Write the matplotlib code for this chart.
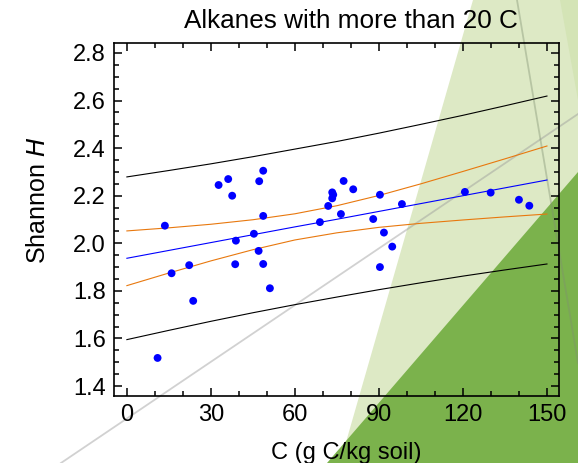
import matplotlib
matplotlib.use("Agg")
import matplotlib.pyplot as plt
from matplotlib.patches import Polygon
from matplotlib.lines import Line2D
from matplotlib.ticker import MultipleLocator

plt.rcParams['font.family'] = ['Liberation Sans', 'DejaVu Sans']

# ---- data ----
carbon = [10.96, 13.57, 15.96, 22.25, 23.68, 32.75, 36.18, 37.6, 38.93, 38.68,
          45.36, 47.25, 48.68, 47.04, 48.68, 48.68, 51.07, 68.93, 71.89, 73.32,
          73.68, 73.32, 76.43, 77.39, 80.82, 87.96, 90.36, 90.36, 91.79, 94.75,
          98.21, 120.7, 129.9, 140.0, 143.7]
shannon = [1.518, 2.074, 1.874, 1.908, 1.758, 2.245, 2.270, 2.200, 2.011, 1.912,
           2.040, 2.261, 2.305, 1.968, 2.115, 1.913, 1.811, 2.089, 2.157, 2.214,
           2.204, 2.189, 2.123, 2.262, 2.227, 2.102, 2.204, 1.900, 2.045, 1.986,
           2.165, 2.216, 2.213, 2.183, 2.158]

band_x = [0, 15, 30, 45, 60, 75, 90, 105, 120, 135, 150]
fit_line = [1.937, 1.970, 2.003, 2.036, 2.069, 2.101, 2.134, 2.167, 2.200, 2.233, 2.266]
conf_upper = [2.052, 2.065, 2.080, 2.099, 2.124, 2.158, 2.201, 2.250, 2.302, 2.355, 2.409]
conf_lower = [1.822, 1.875, 1.926, 1.973, 2.014, 2.044, 2.067, 2.084, 2.098, 2.111, 2.123]
pred_upper = [2.279, 2.306, 2.334, 2.364, 2.396, 2.428, 2.463, 2.500, 2.538, 2.578, 2.619]
pred_lower = [1.595, 1.634, 1.672, 1.708, 1.742, 1.774, 1.805, 1.834, 1.862, 1.888, 1.913]

x_ticks = [0, 30, 60, 90, 120, 150]
y_ticks = [1.4, 1.6, 1.8, 2.0, 2.2, 2.4, 2.6, 2.8]

W, H = 578, 463
fig = plt.figure(figsize=(W / 100, H / 100), dpi=100)
fig.patch.set_facecolor('white')

def fp(pts):
    return [(x / W, 1 - y / H) for x, y in pts]

# decorative background shapes (figure coordinates)
fig.add_artist(Polygon(fp([(473, 0), (578, 0), (578, 463), (340, 463)]),
                       closed=True, transform=fig.transFigure,
                       facecolor='#dde9c5', edgecolor='none', zorder=-3))
fig.add_artist(Polygon(fp([(560, 0), (578, 0), (578, 100)]),
                       closed=True, transform=fig.transFigure,
                       facecolor='#d4e4b6', edgecolor='none', zorder=-2.9))
fig.add_artist(Polygon(fp([(578, 171.7), (578, 463), (327, 463)]),
                       closed=True, transform=fig.transFigure,
                       facecolor='#7bb24c', edgecolor='none', zorder=-2.5))
gx, gy = zip(*fp([(61, 463), (578, 114)]))
fig.add_artist(Line2D(gx, gy, transform=fig.transFigure, color='#9a9a9a',
                      alpha=0.45, lw=1.3, zorder=-2))
gx2, gy2 = zip(*fp([(517, 0), (578, 363)]))
fig.add_artist(Line2D(gx2, gy2, transform=fig.transFigure, color='#7f8f70',
                      alpha=0.4, lw=1.3, zorder=-2))

ax = fig.add_axes([114 / W, 1 - 396 / H, (559 - 114) / W, (396 - 43) / H])
ax.set_facecolor('none')

ax.plot(band_x, pred_upper, color='black', lw=0.8)
ax.plot(band_x, pred_lower, color='black', lw=0.8)
ax.plot(band_x, conf_upper, color='#e8780e', lw=0.8)
ax.plot(band_x, conf_lower, color='#e8780e', lw=0.8)
ax.plot(band_x, fit_line, color='#0000ff', lw=0.8)
ax.scatter(carbon, shannon, s=32, color='#0000ff', edgecolors='none', zorder=3)

ax.set_xlim(-4.6, 154.3)
ax.set_ylim(1.358, 2.842)
ax.set_xticks(x_ticks)
ax.set_yticks(y_ticks)
ax.set_yticklabels([f'{v:.1f}' for v in y_ticks])
ax.xaxis.set_minor_locator(MultipleLocator(10))
ax.yaxis.set_minor_locator(MultipleLocator(0.05))
ax.tick_params(which='both', direction='in', top=True, right=True,
               labelsize=17, width=1.1, pad=6)
ax.tick_params(which='major', length=6)
ax.tick_params(which='minor', length=3.5)
for s in ax.spines.values():
    s.set_linewidth(1.2)

fig.text(271 / W, 1 - 459 / H, 'C (g C/kg soil)', fontsize=17,
         ha='left', va='baseline')
fig.text(45 / W, 1 - 200 / H, 'Shannon $\\mathit{H}$', fontsize=18,
         ha='center', va='baseline', rotation=90, rotation_mode='anchor')
fig.text(183.5 / W, 1 - 28 / H, 'Alkanes with more than 20 C', fontsize=18.8,
         ha='left', va='baseline')

fig.savefig('out.png', dpi=100)
